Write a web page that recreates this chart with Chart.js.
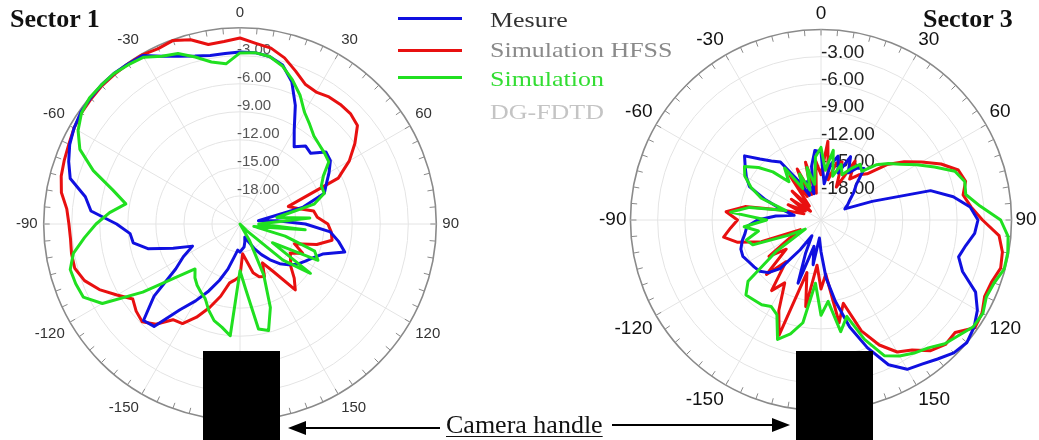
<!DOCTYPE html>
<html>
<head>
<meta charset="utf-8">
<script src="https://cdn.jsdelivr.net/npm/chart.js@4.4.1/dist/chart.umd.min.js"></script>
<style>
  html, body { margin: 0; padding: 0; background: #fff; }
  body { width: 1039px; height: 440px; position: relative; overflow: hidden;
         font-family: "Liberation Serif", "Times New Roman", serif; }
  .plot { position: absolute; }
  .title { position: absolute; top: 6px; font-weight: bold; font-size: 26px; line-height: 26px; color: #111; }
  .handle { position: absolute; background: #000; top: 351px; width: 77px; height: 89px; }
  .leg-line { position: absolute; left: 398px; width: 64px; height: 3px; }
  .leg-text { position: absolute; left: 490px; font-size: 22px; line-height: 22px; white-space: nowrap;
              transform: scaleX(1.18); transform-origin: left center; }
  #cam { position: absolute; left: 446px; top: 412px; font-size: 26px; line-height: 26px; color: #111;
         text-decoration: underline; text-decoration-thickness: 1px; text-underline-offset: 3px; }
  svg { position: absolute; left: 0; top: 0; }
</style>
</head>
<body>
<div class="plot" id="p1" style="left:14px;top:0px;width:448px;height:448px"><canvas id="c1"></canvas></div>
<div class="plot" id="p3" style="left:596px;top:-2px;width:445px;height:445px"><canvas id="c3"></canvas></div>

<div class="title" style="left:10px">Sector 1</div>
<div class="title" style="left:923px">Sector 3</div>

<div class="leg-line" style="top:17px;background:#1010e0"></div>
<div class="leg-line" style="top:49px;background:#e81010"></div>
<div class="leg-line" style="top:76px;background:#20e020"></div>
<div class="leg-text" style="top:9px;color:#333">Mesure</div>
<div class="leg-text" style="top:39px;color:#8a8a8a">Simulation HFSS</div>
<div class="leg-text" style="top:68px;color:#33dd33">Simulation</div>
<div class="leg-text" style="top:101px;color:#c4c4c4">DG-FDTD</div>

<div class="handle" style="left:203px"></div>
<div class="handle" style="left:796px"></div>

<div id="cam">Camera handle</div>
<svg width="1039" height="440">
  <line x1="440" y1="428" x2="300" y2="428" stroke="#000" stroke-width="2"/>
  <polygon points="288,428 306,421 306,435" fill="#000"/>
  <line x1="612" y1="425" x2="778" y2="425" stroke="#000" stroke-width="2"/>
  <polygon points="790,425 772,418 772,432" fill="#000"/>
</svg>

<script>
// angles in degrees, clockwise from the top
const angles = [0, 5, 10, 15, 20, 25, 30, 35, 40, 45, 50, 55, 60, 65, 70, 75, 80, 85, 90,
  95, 100, 105, 110, 115, 120, 125, 130, 135, 140, 145, 150, 155, 160, 165, 170, 175, 180,
  -175, -170, -165, -160, -155, -150, -145, -140, -135, -130, -125, -120, -115, -110, -105,
  -100, -95, -90, -85, -80, -75, -70, -65, -60, -55, -50, -45, -40, -35, -30, -25, -20, -15, -10, -5];

// radial ticks (dB)
const dbTicks = [-3, -6, -9, -12, -15, -18];

// Sector 1 (dB)
const s1Mesure = [-2.6, -2.6, -2.8, -3.4, -4.8, -7.0, -9.4, -10.9, -10.1, -10.3, -9.0, -9.2,
  -10.0, -10.8, -11.4, -14.0, -19.0, -17.0, -14.0, -11.3, -10.3, -9.4, -11.6, -12.4, -13.0,
  -13.5, -14.2, -15.0, -16.0, -17.0, -18.0, -19.0, -19.5, -19.0, -18.5, -18.3, -18.0,
  -18.2, -17.4, -16.0, -14.6, -13.1, -11.5, -9.8, -6.7, -6.4, -9.0, -12.6, -14.0, -15.4,
  -13.4, -10.8, -9.4, -9.2, -7.8, -5.0, -4.2, -2.2, -1.5, -0.9, -0.5, -0.2, -0.1, 0, 0,
  -0.1, -0.2, -1.2, -1.9, -2.4, -2.7, -2.7];
const s1Hfss = [-1.1, -1.6, -1.9, -2.6, -3.6, -4.5, -4.7, -4.4, -4.3, -4.3, -4.6, -6.0,
  -7.5, -9.4, -15.5, -14.6, -13.0, -12.7, -11.6, -11.2, -11.0, -12.5, -14.8, -13.6, -14.8,
  -14.4, -13.9, -12.8, -11.8, -14.8, -16.2, -14.8, -15.0, -15.6, -17.0, -17.8, -15.4,
  -15.0, -14.6, -13.0, -11.5, -10.0, -8.7, -8.5, -7.0, -6.2, -6.5, -7.0, -5.8, -4.4, -3.3,
  -2.7, -2.7, -2.8, -2.7, -2.4, -1.6, -1.2, -1.0, -0.8, -0.5, -0.3, -0.2, -0.1, -0.1, -0.1,
  -0.1, -0.3, -0.1, -0.6, -1.5, -1.4];
const s1Fdtd = [-2.7, -2.6, -2.8, -3.5, -4.6, -5.8, -7.2, -8.0, -8.7, -9.0, -9.2, -9.4,
  -10.7, -11.4, -11.4, -12.8, -17.0, -13.5, -19.0, -14.0, -19.5, -16.0, -12.5, -11.8, -17.0,
  -11.8, -15.0, -20.0, -21.0, -21.0, -19.0, -15.0, -11.5, -9.2, -9.6, -14.0, -16.0,
  -9.0, -9.8, -10.3, -11.2, -12.2, -12.6, -13.0, -13.5, -14.2, -12.2, -8.3, -4.0, -2.5, -2.3,
  -2.2, -2.9, -4.3, -5.6, -7.0, -8.6, -6.9, -4.3, -2.1, -1.0, -0.3, 0, 0, 0, -0.2, -0.4,
  -1.2, -1.6, -2.5, -3.4, -3.8];

// Sector 3 (dB)
const s3Mesure = [-13.5, -17.0, -14.8, -13.7, -15.5, -13.3, -15.0, -14.0, -13.6, -15.5,
  -16.3, -17.1, -17.6, -18.1, -15.0, -8.5, -6.2, -4.5, -3.7, -4.0, -4.8, -5.3, -4.4, -2.2,
  -1.1, -0.4, 0, -0.3, -1.0, -1.6, -2.0, -3.4, -6.0, -8.8, -11.9, -14.6, -17.5,
  -19, -16, -18, -13.6, -17, -19, -17, -14, -12.8, -12.2, -12.0, -11.8, -11.5, -11.6, -12.0,
  -12.5, -12.8, -14, -16, -18, -16.5, -14.5, -12.3, -11.5, -10.8, -10.0, -11.5, -12.5,
  -13.2, -16, -18, -16.5, -18, -15, -13.3];
const s3Hfss = [-16, -12.3, -16.5, -14.5, -14.2, -17, -13.5, -15.5, -14.5, -13.8, -11.5,
  -9.8, -8.2, -6.4, -4.9, -4.5, -5.1, -4.4, -3.2, -1.3, -0.7, -0.5, -1.0, -1.1, -0.5, -0.3,
  -1.7, -1.6, -2.2, -3.5, -4.2, -5.8, -8.0, -11.5, -9.5, -15, -13.4,
  -16, -11.3, -15, -7.5, -10, -13, -11.5, -15, -12.5, -16, -14, -17, -18.5, -14, -11.5,
  -10.1, -11.0, -11.8, -10.5, -12.5, -17, -19, -17, -19, -17, -19.5, -16.5, -19, -15, -18,
  -14.8, -18, -14.4, -18, -14.5];
const s3Fdtd = [-13.0, -15.5, -13.2, -16, -14.5, -15.5, -14.5, -13.5, -14.0, -12.4, -11.3,
  -10.3, -8.8, -7.2, -5.3, -4.6, -4.8, -3.4, -1.2, -0.3, -0.1, -0.1, -0.7, -0.9, -0.4, -0.5,
  -1.2, -1.7, -2.6, -3.1, -3.7, -4.5, -7, -10, -8.5, -12, -10.5,
  -14, -9.5, -8.0, -7.0, -9.5, -10.0, -9.6, -9.5, -9.3, -10.5, -15, -19, -17, -13, -12.5,
  -14, -12.5, -15, -11.0, -13, -17, -14, -12.5, -11.3, -10.7, -12, -13.5, -15.5, -14.0, -17,
  -15.4, -17.5, -15, -17, -14];

const BLUE = '#1010e0';
const RED = '#e81010';
const GREEN = '#20e020';

// tick marks on the outer ring + dB labels up the 0 axis
function ringPlugin(opt) {
  return {
    id: 'ring',
    beforeDatasetsDraw(chart) {
      const r = chart.scales.r;
      const ctx = chart.ctx;
      const R = r.drawingArea;
      ctx.save();
      ctx.strokeStyle = '#8a8a8a';
      ctx.lineWidth = 1;
      for (let i = 0; i < angles.length; i++) {
        const a = r.getIndexAngle(i) - Math.PI / 2;
        const c = Math.cos(a), s = Math.sin(a);
        ctx.beginPath();
        ctx.moveTo(r.xCenter + c * (R - opt.tickLen), r.yCenter + s * (R - opt.tickLen));
        ctx.lineTo(r.xCenter + c * R, r.yCenter + s * R);
        ctx.stroke();
      }
      ctx.font = opt.font;
      ctx.fillStyle = opt.color;
      ctx.textAlign = 'left';
      ctx.textBaseline = 'middle';
      dbTicks.forEach(v => {
        const d = r.getDistanceFromCenterForValue(v);
        ctx.fillText(v.toFixed(2), r.xCenter + opt.dx, r.yCenter - d - opt.dy);
      });
      ctx.restore();
    }
  };
}

function polar(id, mesure, hfss, fdtd, look) {
  return new Chart(document.getElementById(id), {
    type: 'radar',
    data: {
      labels: angles,
      datasets: [
        { label: 'Simulation DG-FDTD', data: fdtd, borderColor: GREEN, order: 0 },
        { label: 'Mesure', data: mesure, borderColor: BLUE, order: 1 },
        { label: 'Simulation HFSS', data: hfss, borderColor: RED, order: 2 }
      ]
    },
    options: {
      responsive: true,
      maintainAspectRatio: false,
      animation: false,
      layout: { padding: 0 },
      elements: {
        line: { borderWidth: 3, fill: false, tension: 0, borderJoinStyle: 'round' },
        point: { radius: 0, hitRadius: 0 }
      },
      plugins: { legend: { display: false }, tooltip: { enabled: false } },
      scales: {
        r: {
          min: -21,
          max: 0,
          ticks: { display: false, stepSize: 3 },
          grid: {
            circular: true,
            color: ctx => ctx.tick && ctx.tick.value === 0 ? '#8a8a8a' : '#e4e4e4',
            lineWidth: ctx => ctx.tick && ctx.tick.value === 0 ? 1.6 : 1
          },
          angleLines: {
            color: '#e4e4e4',
            lineWidth: ctx => ctx.index % 6 === 0 ? 1 : 0
          },
          pointLabels: {
            padding: look.labelPad,
            color: look.labelColor,
            font: { family: 'Liberation Sans', size: look.labelSize },
            callback: v => (v % 30 === 0 ? String(v) : '')
          }
        }
      }
    },
    plugins: [ringPlugin(look)]
  });
}

polar('c1', s1Mesure, s1Hfss, s1Fdtd, {
  labelPad: 6, labelColor: '#333', labelSize: 15,
  tickLen: 6, font: '15px "Liberation Sans"', color: '#555', dx: -3, dy: 6
});
polar('c3', s3Mesure, s3Hfss, s3Fdtd, {
  labelPad: 4, labelColor: '#111', labelSize: 19,
  tickLen: 6, font: '19px "Liberation Sans"', color: '#222', dx: 0, dy: 4
});
</script>
</body>
</html>
